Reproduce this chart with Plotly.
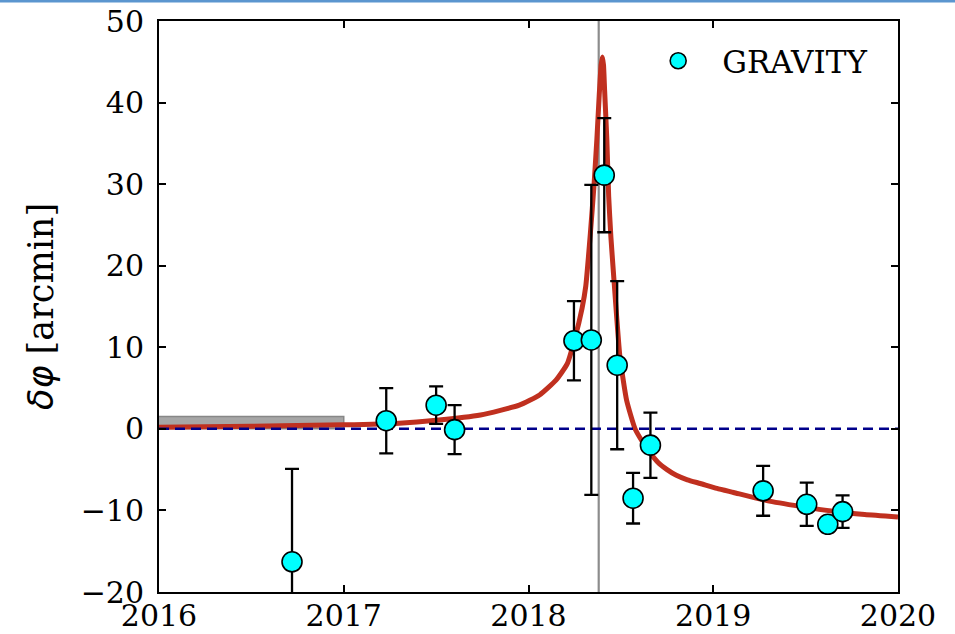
import plotly.graph_objects as go

# GRAVITY measurements of the precession angle
obs_year = [2016.72, 2017.23, 2017.50, 2017.60, 2018.246, 2018.34, 2018.41,
            2018.48, 2018.566, 2018.66, 2019.27, 2019.506, 2019.62, 2019.70]
obs_dphi = [-16.3, 1.0, 2.9, -0.1, 10.8, 10.9, 31.1,
            7.8, -8.5, -2.0, -7.6, -9.25, -11.7, -10.15]
obs_err = [11.4, 4.0, 2.3, 3.0, 4.85, 19.0, 7.0,
           10.3, 3.1, 4.0, 3.05, 2.65, 0.8, 2.0]

# Best-fit model curve
model_year = [2016.00, 2016.50, 2017.00, 2017.30, 2017.50, 2017.74, 2017.95,
              2018.06, 2018.15, 2018.21, 2018.25, 2018.29, 2018.31, 2018.335,
              2018.355, 2018.37, 2018.383, 2018.393, 2018.40, 2018.406,
              2018.412, 2018.424, 2018.434, 2018.446, 2018.457, 2018.477,
              2018.495, 2018.531, 2018.577, 2018.62, 2018.66, 2018.70,
              2018.75, 2018.80, 2018.86, 2018.93, 2019.02,
              2019.11, 2019.29, 2019.47, 2019.65, 2019.82, 2020.00]
model_dphi = [0.20, 0.32, 0.50, 0.70, 1.05, 1.70, 2.90,
              4.15, 6.0, 8.0, 11.0, 14.8, 17.5, 24.0,
              30.0, 35.5, 41.0, 44.6, 45.6, 44.6,
              41.5, 35.5, 28.5, 23.5, 20.0, 13.8,
              8.8, 3.5, 0.0, -1.7, -3.0, -4.1,
              -5.0, -5.7, -6.25, -6.7, -7.3,
              -7.8, -8.8, -9.5, -10.1, -10.5, -10.8]

# Pericentre passage and the earlier reference band
peri_year = 2018.38
band_year = [2015.9, 2017.0]
band_dphi = [0.0, 1.5]

x_range = [2016, 2020]
y_range = [-20, 50]
x_ticks = [2016, 2017, 2018, 2019, 2020]
y_ticks = [-20, -10, 0, 10, 20, 30, 40, 50]

FONT = "DejaVu Serif"

fig = go.Figure()

# grey band
fig.add_trace(go.Scatter(
    x=[band_year[0], band_year[1], band_year[1], band_year[0], band_year[0]],
    y=[band_dphi[0], band_dphi[0], band_dphi[1], band_dphi[1], band_dphi[0]],
    mode="lines", fill="toself", fillcolor="rgba(150,150,150,0.85)",
    line=dict(color="rgb(135,135,135)", width=1.5),
    hoverinfo="skip", showlegend=False))

# pericentre marker
fig.add_trace(go.Scatter(
    x=[peri_year, peri_year], y=y_range, mode="lines",
    line=dict(color="rgb(140,140,140)", width=2.2),
    hoverinfo="skip", showlegend=False))

# model curve
fig.add_trace(go.Scatter(
    x=model_year, y=model_dphi, mode="lines",
    line=dict(color="#c0301f", width=5, shape="spline", smoothing=0.5),
    showlegend=False))

# zero line
fig.add_trace(go.Scatter(
    x=x_range, y=[0, 0], mode="lines",
    line=dict(color="#00008b", width=2.5, dash="10px,6px"),
    hoverinfo="skip", showlegend=False))

# data points
fig.add_trace(go.Scatter(
    x=obs_year, y=obs_dphi, mode="markers", name="GRAVITY",
    marker=dict(color="#00ffff", size=20, line=dict(color="black", width=1.6)),
    error_y=dict(type="data", array=obs_err, color="black", thickness=2.3, width=7),
    cliponaxis=True))

axis_common = dict(
    showline=True, linecolor="black", linewidth=2, mirror="ticks",
    ticks="inside", ticklen=7, tickwidth=1.6, tickcolor="black",
    showgrid=False, zeroline=False, automargin=False,
    tickfont=dict(family=FONT, size=30, color="black"),
)

fig.update_xaxes(range=x_range, tickvals=x_ticks,
                 ticktext=[str(v) for v in x_ticks],
                 ticklabelstandoff=-4, **axis_common)
fig.update_yaxes(range=y_range, tickvals=y_ticks,
                 ticktext=[str(v).replace("-", "\u2212") for v in y_ticks],
                 ticklabelstandoff=7,
                 title=dict(text="<span style=\"font-family:'DejaVu Sans'\"><i>\u03b4\u03c6</i></span> [arcmin]",
                            font=dict(family=FONT, size=35, color="black"),
                            standoff=16),
                 **axis_common)

# thin blue rule along the top edge of the page
fig.add_shape(type="rect", xref="paper", yref="paper",
              x0=-0.3, x1=1.2, y0=1 + 18.6 / 571, y1=1 + 21.5 / 571,
              fillcolor="#5b96cf", line=dict(width=0), layer="above")

fig.update_layout(
    width=955, height=634,
    margin=dict(l=159, r=57, t=21, b=42),
    paper_bgcolor="white", plot_bgcolor="white",
    font=dict(family=FONT, color="black"),
    legend=dict(x=0.643, y=0.977, xanchor="left", yanchor="top",
                bgcolor="rgba(0,0,0,0)", itemwidth=78,
                font=dict(family=FONT, size=31, color="black")),
)

fig.write_html("out.html")
